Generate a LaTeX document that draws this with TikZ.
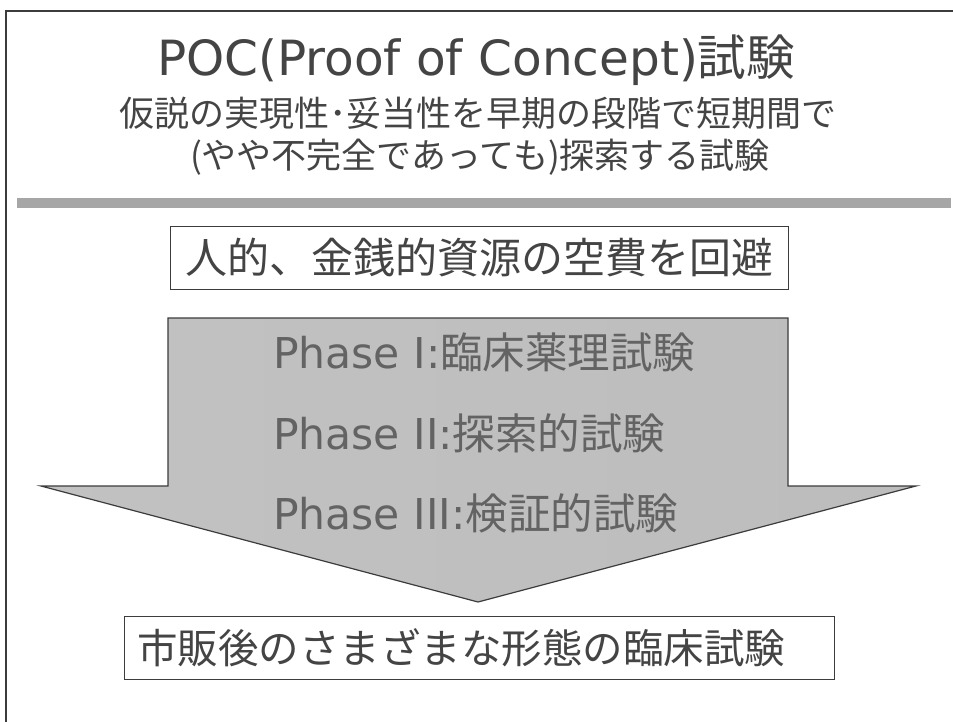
\documentclass[tikz,border=0pt]{standalone}
\usepackage{fontspec}
\setmainfont{DejaVu Sans}
\newfontfamily\jp{Noto Sans CJK JP}
\definecolor{txt}{HTML}{444444}
\definecolor{phtxt}{HTML}{636363}
\definecolor{edge}{HTML}{3C3C3C}
\definecolor{band}{HTML}{A6A6A6}
\begin{document}
\begin{tikzpicture}[x=1pt,y=-1pt,
  frame/.style={draw=edge, line width=1.6pt},
  titletext/.style={text=txt, inner sep=0pt, font=\fontsize{48.5}{58}\selectfont},
  subtext/.style={text=txt, inner sep=0pt, font=\jp\fontsize{35}{40}\selectfont},
  boxnode/.style={draw=edge, line width=1pt, fill=white, inner sep=0pt},
  boxtext/.style={text=txt, inner sep=0pt, font=\jp\fontsize{42}{48}\selectfont},
  phasetext/.style={text=phtxt, inner sep=0pt, anchor=west, font=\fontsize{42.5}{48}\selectfont},
  arrowshape/.style={draw=edge, line width=1.2pt, left color=black!24, middle color=black!13, right color=black!26}
]
\useasboundingbox (0,0) rectangle (953,722);
\fill[white] (0,0) rectangle (953,722);
\draw[frame] (6,722) -- (6,11) -- (953,11);
\fill[band] (17,198) rectangle (951,208);
\node[titletext] (title) at (476,60) {POC(Proof of Concept){\jp 試験}};
\node[subtext] (sub1) at (478,113) {仮説の実現性･妥当性を早期の段階で短期間で};
\node[subtext] (sub2) at (480,157) {(やや不完全であっても)探索する試験};
\node[boxnode, minimum width=618pt, minimum height=62pt] (res) at (479,258) {};
\node[boxtext] (restext) at (res.center) {人的、金銭的資源の空費を回避};
\path[arrowshape] (168,318) -- (788,318) -- (788,486) -- (916,486) -- (478,602) -- (41,486) -- (168,486) -- cycle;
\node[phasetext] (p1) at (273,352) {Phase I:{\jp 臨床薬理試験}};
\node[phasetext] (p2) at (273,433) {Phase II:{\jp 探索的試験}};
\node[phasetext] (p3) at (273,513) {Phase III:{\jp 検証的試験}};
\node[boxnode, minimum width=710pt, minimum height=63pt] (post) at (479,647.5) {};
\node[boxtext, font=\jp\fontsize{40.5}{48}\selectfont, anchor=west] (posttext) at (137,648) {市販後のさまざまな形態の臨床試験};
\end{tikzpicture}
\end{document}
